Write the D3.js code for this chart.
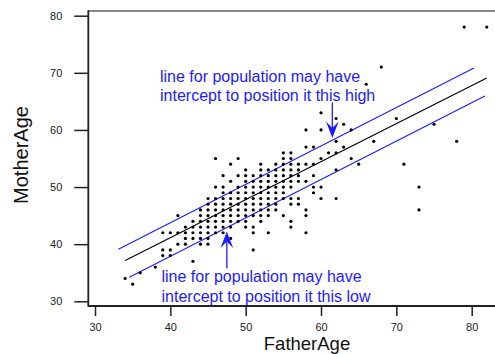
<!DOCTYPE html>
<html>
<head>
<meta charset="utf-8">
<script src="https://cdn.jsdelivr.net/npm/d3@7/dist/d3.min.js"></script>
<style>
  html, body { margin: 0; padding: 0; background: #fff; }
  svg { display: block; font-family: "Liberation Sans", Arial, sans-serif; }
</style>
</head>
<body>
<svg id="chart" width="495" height="354"></svg>
<script>
// Ages of father and mother for each couple (paired by index)
const fatherAge = [
  79, 82,
  68,
  66,
  60,
  62, 70,
  63, 75,
  58, 60, 64,
  62, 67, 78,
  58, 59, 63,
  55, 56, 61, 62,
  46, 49, 55, 56, 60, 64,
  48, 52, 54, 55, 56, 57, 58, 59, 65, 71,
  50, 52, 53, 54, 55, 56, 57, 62,
  47, 49, 50, 51, 52, 53, 54, 55, 56, 57, 59,
  48, 50, 51, 52, 53, 54, 55, 56, 57, 58,
  46, 47, 49, 50, 51, 52, 53, 54, 55, 56, 59, 60, 73,
  47, 48, 49, 50, 51, 52, 53, 54, 55, 59,
  45, 46, 47, 48, 49, 50, 51, 52, 53, 54, 55, 56, 57, 60, 62,
  45, 46, 47, 48, 49, 50, 51, 52, 53, 54, 56, 57,
  44, 45, 46, 47, 48, 49, 50, 51, 52, 53, 54, 58, 73,
  41, 44, 45, 46, 47, 48, 49, 50, 51, 52, 53, 55, 58,
  43, 44, 45, 46, 47, 48, 49, 50, 52, 56,
  42, 43, 44, 45, 46, 47, 48, 50, 51, 56,
  39, 40, 41, 42, 43, 44, 45, 46, 47, 51, 53, 58,
  42, 43, 44, 45, 48,
  41, 42, 44, 45,
  39, 40, 51,
  39, 40,
  43,
  38,
  36,
  34,
  35
];
const motherAge = [
  78, 78,
  71,
  68,
  63,
  62, 62,
  61, 61,
  60, 60, 60,
  58, 58, 58,
  57, 57, 57,
  56, 56, 56, 56,
  55, 55, 55, 55, 55, 55,
  54, 54, 54, 54, 54, 54, 54, 54, 54, 54,
  53, 53, 53, 53, 53, 53, 53, 53,
  52, 52, 52, 52, 52, 52, 52, 52, 52, 52, 52,
  51, 51, 51, 51, 51, 51, 51, 51, 51, 51,
  50, 50, 50, 50, 50, 50, 50, 50, 50, 50, 50, 50, 50,
  49, 49, 49, 49, 49, 49, 49, 49, 49, 49,
  48, 48, 48, 48, 48, 48, 48, 48, 48, 48, 48, 48, 48, 48, 48,
  47, 47, 47, 47, 47, 47, 47, 47, 47, 47, 47, 47,
  46, 46, 46, 46, 46, 46, 46, 46, 46, 46, 46, 46, 46,
  45, 45, 45, 45, 45, 45, 45, 45, 45, 45, 45, 45, 45,
  44, 44, 44, 44, 44, 44, 44, 44, 44, 44,
  43, 43, 43, 43, 43, 43, 43, 43, 43, 43,
  42, 42, 42, 42, 42, 42, 42, 42, 42, 42, 42, 42,
  41, 41, 41, 41, 41,
  40, 40, 40, 40,
  39, 39, 39,
  38, 38,
  37,
  36,
  35,
  34,
  33
];

// Axis ticks
const xTicks = [30, 40, 50, 60, 70, 80];
const yTicks = [30, 40, 50, 60, 70, 80];

// Fitted line (black) and the two shifted population lines (blue): [x0, y0, x1, y1]
const fitLine   = [34.0, 37.15, 82.0, 69.1];
const highLine  = [33.1, 39.1, 80.3, 70.85];
const lowLine   = [34.55, 34.2, 81.75, 65.95];

// Arrows: [x, yTail, yTip]
const highArrow = [61.5, 64.8, 58.6];
const lowArrow  = [47.5, 35.8, 42.2];

const highText = ["line for population may have", "intercept to position it this high"];
const lowText  = ["line for population may have", "intercept to position it this low"];

const svg = d3.select("#chart");
const blue = "#1c1cff";

const x = d3.scaleLinear().domain([30, 80]).range([95, 471.7]);
const y = d3.scaleLinear().domain([30, 80]).range([301.3, 15.7]);

const frameL = 88.3, frameT = 11, frameB = 306, frameR = 498;

// Frame: grey top edge, dark left and bottom axes
svg.append("line").attr("x1", frameL).attr("x2", frameR).attr("y1", frameT).attr("y2", frameT)
  .attr("stroke", "#666").attr("stroke-width", 1.5);
svg.append("line").attr("x1", frameL).attr("x2", frameL).attr("y1", frameT - 0.75).attr("y2", frameB + 0.75)
  .attr("stroke", "#222").attr("stroke-width", 1.8);
svg.append("line").attr("x1", frameL).attr("x2", frameR).attr("y1", frameB).attr("y2", frameB)
  .attr("stroke", "#222").attr("stroke-width", 1.8);

// Axes
const yAxis = svg.append("g").attr("transform", `translate(${frameL},0)`)
  .call(d3.axisLeft(y).tickValues(yTicks).tickSize(14).tickPadding(12).tickFormat(d3.format("d")));
const xAxis = svg.append("g").attr("transform", `translate(0,${frameB})`)
  .call(d3.axisBottom(x).tickValues(xTicks).tickSize(10).tickPadding(7).tickFormat(d3.format("d")));
[xAxis, yAxis].forEach(g => {
  g.select(".domain").remove();
  g.selectAll(".tick line").attr("stroke", "#222").attr("stroke-width", 1.5);
  g.selectAll(".tick text").attr("fill", "#222").attr("font-size", 11)
    .attr("font-family", "'Liberation Sans', Arial, sans-serif");
});

// Axis titles
svg.append("text").attr("x", 307).attr("y", 350).attr("text-anchor", "middle")
  .attr("font-size", 18.5).attr("fill", "#111").text("FatherAge");
svg.append("text").attr("transform", "translate(27.5,155) rotate(-90)").attr("text-anchor", "middle")
  .attr("font-size", 20).attr("fill", "#111").text("MotherAge");

// Regression lines
const lines = [
  { v: fitLine, c: "#000" },
  { v: highLine, c: blue },
  { v: lowLine, c: blue }
];
svg.append("g").selectAll("line").data(lines).join("line")
  .attr("x1", d => x(d.v[0])).attr("y1", d => y(d.v[1]))
  .attr("x2", d => x(d.v[2])).attr("y2", d => y(d.v[3]))
  .attr("stroke", d => d.c).attr("stroke-width", 1.1);

// Points
svg.append("g").selectAll("circle").data(fatherAge).join("circle")
  .attr("cx", d => x(d))
  .attr("cy", (d, i) => y(motherAge[i]))
  .attr("r", 1.6)
  .attr("fill", "#000");

// Arrows with a notched filled head
function arrow(a) {
  const px = x(a[0]), yTail = y(a[1]), yTip = y(a[2]);
  const dir = Math.sign(yTip - yTail);
  const headLen = 16.5, notch = 10, half = 6.3;
  svg.append("line").attr("x1", px).attr("x2", px)
    .attr("y1", yTail).attr("y2", yTip - dir * notch)
    .attr("stroke", blue).attr("stroke-width", 1.3);
  const pts = [
    [px, yTip],
    [px - half, yTip - dir * headLen],
    [px, yTip - dir * notch],
    [px + half, yTip - dir * headLen]
  ];
  svg.append("path").attr("d", "M" + pts.map(p => p.join(",")).join("L") + "Z").attr("fill", blue);
}
arrow(highArrow);
arrow(lowArrow);

// Annotations
function note(lines, x0, y0) {
  const t = svg.append("text").attr("font-size", 16).attr("fill", blue);
  lines.forEach((s, i) => t.append("tspan").attr("x", x0).attr("y", y0 + i * 19.5).text(s));
}
note(highText, 160, 81.7);
note(lowText, 161.5, 282.2);
</script>
</body>
</html>
